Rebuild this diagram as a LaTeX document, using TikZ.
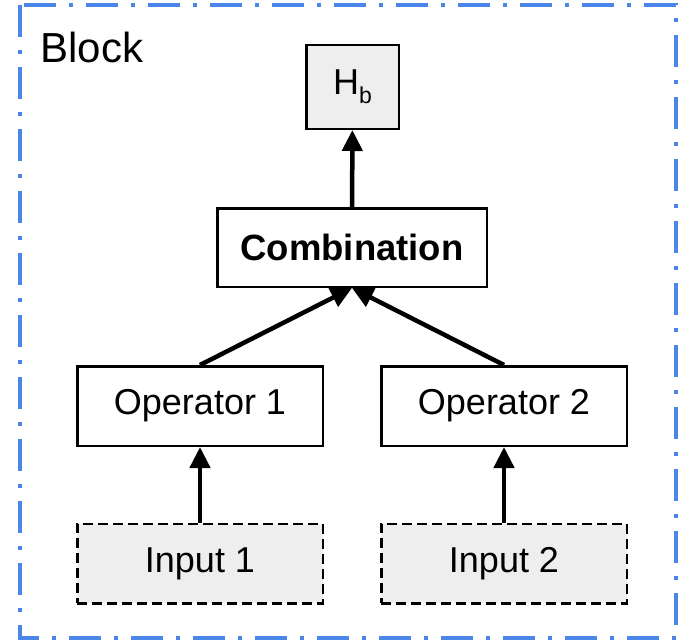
\documentclass[tikz,border=0pt]{standalone}
\usepackage{fontspec}
\setmainfont{Liberation Sans}
\usetikzlibrary{arrows.meta}
\definecolor{frameblue}{HTML}{4A86E8}
\definecolor{boxgrey}{HTML}{EEEEEE}
\begin{document}
\begin{tikzpicture}[
  x=1pt, y=-1pt,
  box/.style={draw, line width=2.5pt, inner sep=0pt, font=\fontsize{36}{43}\selectfont},
  op/.style={box, minimum width=245.5pt, minimum height=79.5pt},
  inp/.style={op, fill=boxgrey, dash pattern=on 10pt off 5pt},
  e/.style={line width=4.5pt, -{Triangle[length=21pt,width=20pt]}}
]
\useasboundingbox (0,0) rectangle (684,642);
\draw[frameblue, line width=4.5pt, dash pattern=on 32pt off 13pt on 4pt off 13pt] (20,5) rectangle (676,638);

\node[anchor=base west, font=\fontsize{42}{50}\selectfont] (lbl) at (37,63) {Block};
\node[box, fill=boxgrey, minimum width=92.5pt, minimum height=83.5pt] (hb) at (352.5,87) {H\raisebox{-9pt}{\fontsize{23}{23}\selectfont b}};
\node[box, minimum width=269.5pt, minimum height=78.5pt, font=\fontsize{36.5}{43}\selectfont\bfseries] (comb) at (352,247.5) {Combination};
\node[op] (op1) at (200,406) {Operator 1};
\node[op] (op2) at (504,406) {Operator 2};
\node[inp] (in1) at (200,563.5) {Input 1};
\node[inp] (in2) at (504,563.5) {Input 2};

\draw[e] (in1) -- (op1);
\draw[e] (in2) -- (op2);
\draw[e] (op1.north) -- (comb.south);
\draw[e] (op2.north) -- (comb.south);
\draw[e] (comb) -- (hb);
\end{tikzpicture}
\end{document}
